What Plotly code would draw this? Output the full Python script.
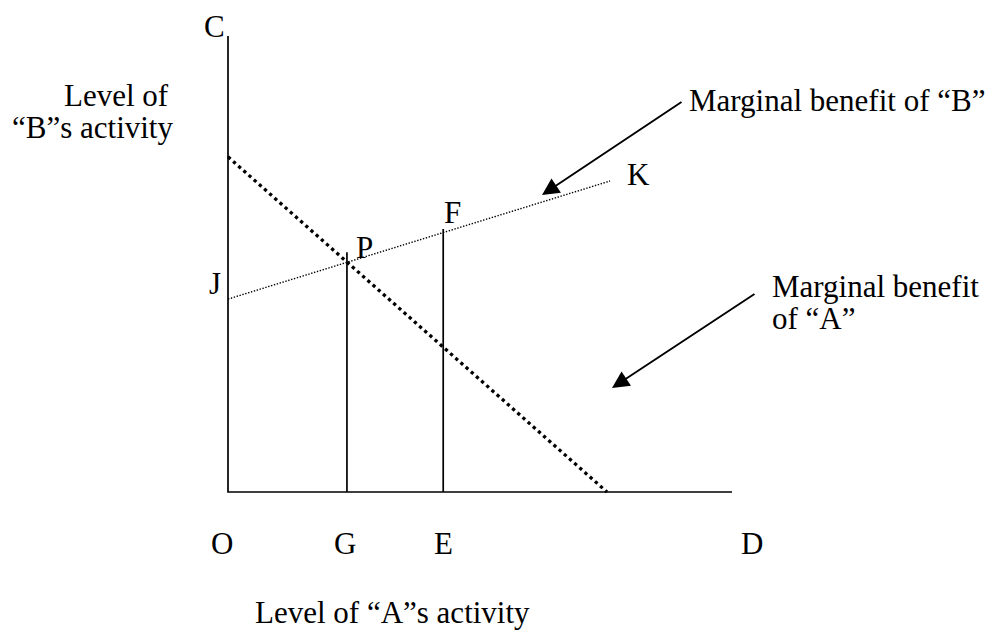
import plotly.graph_objects as go

# ---- data (abstract units: O = origin, D = end of horizontal axis = 10, C = top of vertical axis = 10)
axis_x_end = 10.0
axis_y_top = 10.0

mb_a_x = [0.0, 7.52]      # marginal benefit of "A" (thick dotted, downward)
mb_a_y = [7.35, 0.0]

mb_b_x = [0.0, 7.58]      # marginal benefit of "B" (fine dotted, J -> K)
mb_b_y = [4.23, 6.82]

vert_names = ["G", "E"]
vert_x = [2.36, 4.27]
vert_top = [5.26, 5.77]

# ---- pixel <-> data mapping used only for layout placement (page pixels)
X0, Y0 = 228.0, 492.0     # pixel position of origin
SX, SY = 50.4, 45.6       # pixels per unit
W, H = 1006, 630
PAGE_OFF = 8              # default body margin of the page

def dx(px):
    return (px - X0) / SX

def dy(py):
    return (Y0 - py) / SY

FONT = dict(family="Liberation Serif, Times New Roman, serif", size=31, color="black")

fig = go.Figure()

# axes
fig.add_trace(go.Scatter(x=[0, 0, axis_x_end], y=[axis_y_top, 0, 0], mode="lines",
                         line=dict(color="black", width=1.7), hoverinfo="skip"))
# vertical lines at G and E
for vx, vt in zip(vert_x, vert_top):
    fig.add_trace(go.Scatter(x=[vx, vx], y=[0, vt], mode="lines",
                             line=dict(color="black", width=1.7), hoverinfo="skip"))
# MB of A
fig.add_trace(go.Scatter(x=mb_a_x, y=mb_a_y, mode="lines",
                         line=dict(color="black", width=3.3, dash="3.3px,3.6px"), hoverinfo="skip"))
# MB of B
fig.add_trace(go.Scatter(x=mb_b_x, y=mb_b_y, mode="lines",
                         line=dict(color="black", width=1.4, dash="1.4px,1.6px"), hoverinfo="skip"))

ann = []

def label(text, px, py, xanchor="center", yanchor="middle"):
    ann.append(dict(x=dx(px), y=dy(py), xref="x", yref="y", text=text, showarrow=False,
                    xanchor=xanchor, yanchor=yanchor, font=FONT))

label("C", 214, 26)
label("J", 215, 283)
label("P", 364, 247)
label("F", 452, 212)
label("K", 638, 174)
label("O", 222, 543)
label("G", 345, 543)
label("E", 443, 543)
label("D", 752, 543)
label("Level of", 171, 95, xanchor="right")
label("\u201cB\u201ds activity", 175, 127, xanchor="right")
label("Marginal benefit of \u201cB\u201d", 687, 100, xanchor="left")
label("Marginal benefit", 770, 286, xanchor="left")
label("of \u201cA\u201d", 770, 318, xanchor="left")
label("Level of \u201cA\u201ds activity", 392, 612)

# arrows
def arrow(tail_px, tip_px):
    ann.append(dict(x=dx(tip_px[0]), y=dy(tip_px[1]), ax=dx(tail_px[0]), ay=dy(tail_px[1]),
                    xref="x", yref="y", axref="x", ayref="y", text="", showarrow=True,
                    arrowhead=2, arrowsize=1.8, arrowwidth=1.9, arrowcolor="black"))

arrow((683, 101), (542, 195))
arrow((756, 293), (612, 388))

fig.update_layout(
    width=W, height=H,
    margin=dict(l=0, r=0, t=0, b=0),
    paper_bgcolor="white", plot_bgcolor="white",
    showlegend=False,
    xaxis=dict(range=[dx(PAGE_OFF), dx(PAGE_OFF + W)], visible=False, fixedrange=True),
    yaxis=dict(range=[dy(PAGE_OFF + H), dy(PAGE_OFF)], visible=False, fixedrange=True),
    annotations=ann,
)

fig.write_html("out.html")
